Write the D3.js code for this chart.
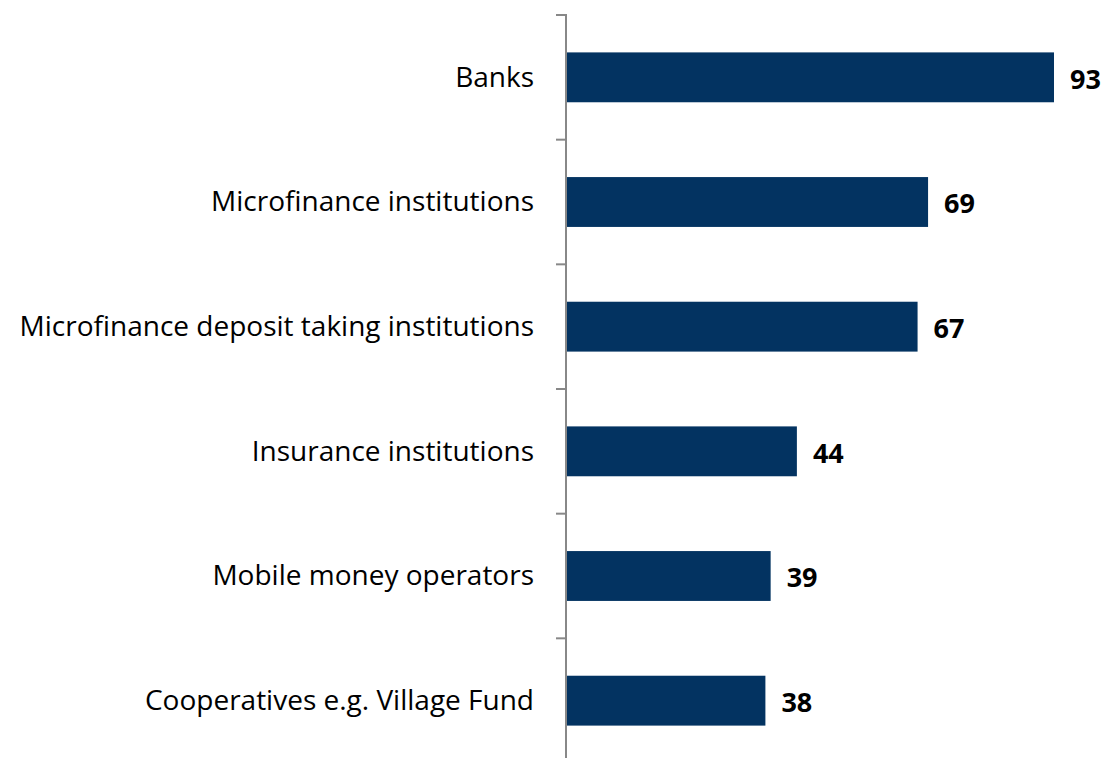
<!DOCTYPE html>
<html>
<head>
<meta charset="utf-8">
<script src="https://cdn.jsdelivr.net/npm/d3@7"></script>
<style>
  html, body { margin: 0; padding: 0; background: #fff; }
  svg { display: block; }
</style>
</head>
<body>
<svg id="chart" width="1106" height="758"></svg>
<script>
// Institution types and their values
const categories = [
  "Banks",
  "Microfinance institutions",
  "Microfinance deposit taking institutions",
  "Insurance institutions",
  "Mobile money operators",
  "Cooperatives e.g. Village Fund"
];
const values = [93, 69, 67, 44, 39, 38];

const svg = d3.select("#chart");
const axisX = 566;
const font = "'Open Sans', Lato, sans-serif";

const x = d3.scaleLinear().domain([0, 93]).range([axisX, 1054]);
const y = d3.scaleBand().domain(categories).range([15, 763]).paddingInner(0.6).paddingOuter(0.3);

// Bars
svg.append("g").selectAll("rect")
  .data(values)
  .join("rect")
  .attr("x", x(0))
  .attr("y", (d, i) => y(categories[i]))
  .attr("width", d => x(d) - x(0))
  .attr("height", y.bandwidth())
  .attr("fill", "#033361");

// Category axis with ticks between bands
const tickYs = d3.range(categories.length + 1).map(i => 15 + i * (763 - 15) / categories.length);
const axisG = svg.append("g");
axisG.append("line")
  .attr("x1", axisX).attr("x2", axisX)
  .attr("y1", 14).attr("y2", 763)
  .attr("stroke", "#888").attr("stroke-width", 2);
axisG.selectAll("line.tick")
  .data(tickYs)
  .join("line")
  .attr("class", "tick")
  .attr("x1", axisX - 10).attr("x2", axisX)
  .attr("y1", d => d).attr("y2", d => d)
  .attr("stroke", "#888").attr("stroke-width", 2);

// Category labels
svg.append("g").selectAll("text")
  .data(categories)
  .join("text")
  .attr("x", axisX - 32)
  .attr("y", d => y(d) + y.bandwidth() / 2)
  .attr("dy", "0.33em")
  .attr("text-anchor", "end")
  .attr("font-family", font)
  .attr("font-size", 28)
  .attr("fill", "#000")
  .text(d => d);

// Value labels
svg.append("g").selectAll("text")
  .data(values)
  .join("text")
  .attr("x", d => x(d) + 16)
  .attr("y", (d, i) => y(categories[i]) + y.bandwidth() / 2)
  .attr("dy", "0.42em")
  .attr("font-family", font)
  .attr("font-weight", "bold")
  .attr("font-size", 27)
  .attr("fill", "#000")
  .text(d => d);
</script>
</body>
</html>
